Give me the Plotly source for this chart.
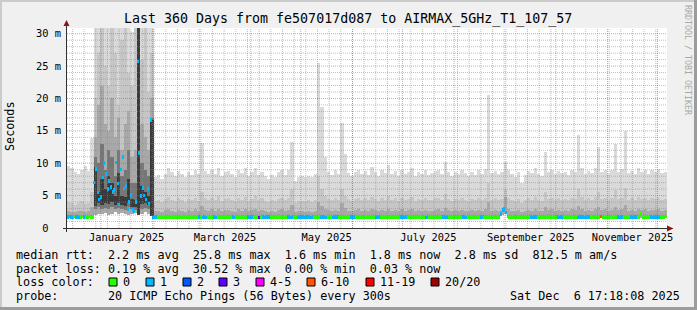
import plotly.graph_objects as go
from datetime import datetime, timedelta

# ---------------- data ----------------
START = datetime(2024, 12, 11, 17, 18, 8)
END = datetime(2025, 12, 6, 17, 18, 8)
SMOKE_STEP_DAYS = 2          # one smoke column = 2 days
MEDIAN_STEP_DAYS = 1         # one median cell = 1 day

# smoke envelope, ms (per 2-day column)
smoke_max = [
    9.5, 9.3, 8.6, 8.4, 9.0, 9.6, 8.8, 13.9, 35, 35,
    35, 35, 35, 35, 35, 35, 35, 35, 35, 30.2,
    35, 35, 35, 35, 35, 35, 7.8, 8.2, 7.6, 8.4,
    9.2, 8.6, 8.0, 8.8, 8.4, 7.9, 8.6, 8.2, 9.0, 8.4,
    13.1, 8.8, 8.3, 8.9, 8.4, 9.3, 8.0, 8.6, 8.8, 8.3,
    7.8, 9.0, 8.5, 9.2, 8.1, 8.7, 9.3, 8.2, 8.7, 8.0,
    7.6, 8.2, 7.8, 8.6, 8.9, 8.2, 8.9, 13.3, 7.2, 7.9,
    8.0, 7.9, 8.1, 7.8, 8.3, 25.4, 18.7, 11.0, 8.7, 8.2,
    8.9, 8.4, 16.2, 11.5, 8.5, 8.0, 8.6, 9.0, 8.4, 8.8,
    8.2, 9.4, 8.6, 8.0, 8.9, 8.5, 9.7, 8.3, 8.8, 8.1,
    9.0, 8.4, 8.7, 9.2, 8.0, 8.6, 8.3, 8.9, 8.2, 8.5,
    8.8, 9.0, 8.4, 10.2, 8.6, 8.1, 8.7, 8.3, 8.9, 8.5,
    8.0, 8.6, 8.2, 8.9, 8.4, 9.1, 20.5, 8.5, 8.8, 8.3,
    8.6, 10.2, 9.0, 8.4, 7.9, 8.6, 7.0, 8.2, 8.8, 8.5,
    9.2, 8.4, 8.0, 11.7, 8.6, 9.0, 8.3, 8.8, 8.5, 8.7,
    8.2, 9.0, 8.6, 14.4, 9.2, 8.4, 8.8, 8.5, 9.3, 12.5,
    8.6, 9.0, 8.4, 8.9, 13.0, 8.7, 9.1, 15.0, 8.5, 8.8,
    8.4, 9.2, 8.6, 9.0, 8.3, 8.9, 8.7, 9.1, 8.5, 8.6,
]
smoke_p90 = [
    4.0, 3.8, 3.6, 3.9, 4.1, 3.7, 3.9, 5.5, 20, 27,
    31, 25, 22, 31, 27, 19, 29, 31, 24, 22,
    31, 28, 26, 31, 21, 27, 4.2, 4.4, 4.0, 4.5,
    4.8, 4.3, 4.1, 4.6, 4.4, 4.0, 4.5, 4.3, 4.7, 4.2,
    5.5, 4.6, 4.3, 4.7, 4.4, 4.9, 4.2, 4.5, 4.6, 4.3,
    4.1, 4.7, 4.4, 4.8, 4.2, 4.5, 4.9, 4.3, 4.6, 4.2,
    4.0, 4.3, 4.1, 4.5, 4.7, 4.3, 4.6, 6.0, 3.9, 4.2,
    4.2, 4.1, 4.3, 4.0, 4.4, 8.0, 6.0, 5.0, 4.5, 4.3,
    4.6, 4.4, 6.0, 5.0, 4.5, 4.2, 4.5, 4.7, 4.4, 4.6,
    4.3, 4.8, 4.5, 4.2, 4.6, 4.4, 5.0, 4.3, 4.6, 4.2,
    4.7, 4.4, 4.5, 4.8, 4.2, 4.5, 4.3, 4.6, 4.3, 4.4,
    4.6, 4.7, 4.4, 5.2, 4.5, 4.2, 4.5, 4.3, 4.6, 4.4,
    4.2, 4.5, 4.3, 4.6, 4.4, 4.7, 7.0, 4.4, 4.6, 4.3,
    4.5, 6.0, 4.7, 4.4, 4.1, 4.5, 3.8, 4.3, 4.6, 4.4,
    4.8, 4.4, 4.2, 5.5, 4.5, 4.7, 4.3, 4.6, 4.4, 4.5,
    4.3, 4.7, 4.5, 6.0, 4.8, 4.4, 4.6, 4.4, 4.8, 5.5,
    4.5, 4.7, 4.4, 4.6, 5.8, 4.5, 4.7, 6.2, 4.4, 4.6,
    4.4, 4.8, 4.5, 4.7, 4.3, 4.6, 4.5, 4.7, 4.4, 4.5,
]
smoke_p75 = [
    2.6, 2.5, 2.4, 2.6, 2.7, 2.5, 2.6, 3.2, 14, 19,
    22, 16, 15, 20, 14, 17, 12, 16, 18, 11,
    12, 26, 16, 14, 12, 20, 2.6, 2.7, 2.5, 2.8,
    2.9, 2.6, 2.5, 2.8, 2.7, 2.5, 2.8, 2.6, 2.9, 2.6,
    3.4, 2.8, 2.6, 2.9, 2.7, 3.0, 2.6, 2.8, 2.8, 2.6,
    2.5, 2.9, 2.7, 3.0, 2.6, 2.8, 3.0, 2.6, 2.8, 2.6,
    2.5, 2.6, 2.5, 2.8, 2.9, 2.6, 2.8, 3.5, 2.5, 2.6,
    2.6, 2.5, 2.7, 2.5, 2.7, 4.0, 3.4, 3.0, 2.8, 2.6,
    2.8, 2.7, 3.8, 3.1, 2.7, 2.6, 2.8, 2.9, 2.7, 2.8,
    2.6, 2.9, 2.8, 2.6, 2.8, 2.7, 3.0, 2.6, 2.8, 2.6,
    2.9, 2.7, 2.8, 2.9, 2.6, 2.8, 2.7, 2.8, 2.6, 2.7,
    2.8, 2.9, 2.7, 3.1, 2.8, 2.6, 2.8, 2.7, 2.8, 2.7,
    2.6, 2.8, 2.7, 2.8, 2.7, 2.9, 4.0, 2.7, 2.8, 2.7,
    2.8, 4.8, 2.9, 2.7, 2.6, 2.8, 2.5, 2.7, 2.8, 2.7,
    2.9, 2.7, 2.6, 3.2, 2.8, 2.9, 2.7, 2.8, 2.7, 2.8,
    2.7, 2.9, 2.8, 3.4, 2.9, 2.7, 2.8, 2.7, 2.9, 3.2,
    2.8, 2.9, 2.7, 2.8, 3.3, 2.8, 2.9, 3.5, 2.7, 2.8,
    2.7, 2.9, 2.8, 2.9, 2.7, 2.8, 2.8, 2.9, 2.7, 2.8,
]
smoke_min = [
    1.5, 1.5, 1.5, 1.5, 1.5, 1.5, 1.5, 1.5, 2.0, 2.2,
    2.1, 2.3, 2.0, 2.2, 2.4, 2.1, 2.3, 2.2, 2.0, 2.1,
    2.3, 2.0, 2.2, 2.4, 2.1, 2.2, 1.5, 1.5, 1.5, 1.5,
    1.5, 1.5, 1.5, 1.5, 1.5, 1.5, 1.5, 1.5, 1.5, 1.5,
    1.5, 1.5, 1.5, 1.5, 1.5, 1.5, 1.5, 1.5, 1.5, 1.5,
    1.5, 1.5, 1.5, 1.5, 1.5, 1.5, 1.5, 1.5, 1.5, 1.5,
    1.5, 1.5, 1.5, 1.5, 1.5, 1.5, 1.5, 1.5, 1.5, 1.5,
    1.5, 1.5, 1.5, 1.5, 1.5, 1.5, 1.5, 1.5, 1.5, 1.5,
    1.5, 1.5, 1.5, 1.5, 1.5, 1.5, 1.5, 1.5, 1.5, 1.5,
    1.5, 1.5, 1.5, 1.5, 1.5, 1.5, 1.5, 1.5, 1.5, 1.5,
    1.5, 1.5, 1.5, 1.5, 1.5, 1.5, 1.5, 1.5, 1.5, 1.5,
    1.5, 1.5, 1.5, 1.5, 1.5, 1.5, 1.5, 1.5, 1.5, 1.5,
    1.5, 1.5, 1.5, 1.5, 1.5, 1.5, 1.5, 1.5, 1.5, 1.5,
    2.0, 2.2, 1.5, 1.5, 1.5, 1.5, 1.5, 1.5, 1.5, 1.5,
    1.5, 1.5, 1.5, 1.5, 1.5, 1.5, 1.5, 1.5, 1.5, 1.5,
    1.5, 1.5, 1.5, 1.5, 1.5, 1.5, 1.5, 1.5, 1.5, 1.5,
    1.5, 1.5, 1.5, 1.5, 1.5, 1.5, 1.5, 1.5, 1.5, 1.5,
    1.5, 1.5, 1.5, 1.5, 1.5, 1.5, 1.5, 1.5, 1.5, 1.5,
]
# dense inner smoke of the late-Dec / January incident (smoke columns 8..25)
JAN_FIRST_COL = 8
jan_dark_lo = [3.0, 3.2, 2.9, 3.1, 3.0, 3.3, 2.9, 3.1, 3.0, 2.8, 3.2, 2.9, 2.8, 2.6, 3.0, 3.1, 2.9, 2.7]
jan_dark_hi = [11, 10, 13, 9, 12, 11, 8, 12, 8, 9, 12, 7, 7, 24, 10, 9, 8, 17]
jan_core_lo = [3.4, 3.8, 3.6, 3.9, 3.7, 4.0, 3.5, 3.8, 3.6, 3.4, 3.9, 3.3, 3.2, 2.0, 3.7, 3.8, 3.5, 1.9]
jan_core_hi = [9.4, 5.5, 7.5, 6.0, 8.0, 7.0, 5.0, 8.5, 5.0, 4.8, 7.5, 4.5, 4.4, 31.0, 6.5, 5.5, 5.0, 16.7]

# median rtt, ms (per day)
median_ms = [
    1.7, 1.8, 1.7, 1.7, 1.8, 1.7, 1.7, 1.6, 1.7, 1.8, 1.7, 1.7, 1.7, 1.8, 1.7, 1.7, 7.0, 9.1, 5.5, 4.4, 4.8, 7.8, 10.0, 8.3, 6.0, 7.3, 6.3, 5.6, 5.9, 10.1,
    6.9, 3.6, 9.0, 11.0, 6.1, 6.5, 2.9, 4.0, 5.1, 2.8, 2.6, 4.0, 25.7, 11.6, 4.9, 6.2, 5.0, 4.4, 6.0, 3.8, 16.7, 1.6, 1.6, 1.7, 1.6, 1.6, 1.7, 1.6, 1.6, 1.7,
    1.6, 1.7, 1.6, 1.6, 1.7, 1.6, 1.6, 1.7, 1.6, 1.6, 1.7, 1.6, 1.6, 1.7, 1.6, 1.6, 1.7, 1.6, 1.6, 1.7, 1.6, 1.6, 1.7, 1.6, 1.6, 1.7, 1.6, 1.6, 1.7, 1.6,
    1.7, 1.6, 1.7, 1.7, 1.6, 1.7, 1.7, 1.6, 1.7, 1.7, 1.6, 1.7, 1.7, 1.6, 1.7, 1.7, 1.6, 1.7, 1.7, 1.6, 1.7, 1.7, 1.6, 1.7, 1.7, 1.6, 1.7, 1.7, 1.6, 1.7,
    1.7, 1.7, 1.6, 1.7, 1.7, 1.7, 1.6, 1.7, 1.7, 1.7, 1.6, 1.7, 1.7, 1.7, 1.6, 1.7, 1.7, 1.7, 1.6, 1.7, 1.7, 1.7, 1.6, 1.7, 1.7, 1.7, 1.6, 1.7, 1.7, 1.7,
    1.7, 1.6, 1.7, 1.7, 1.7, 1.6, 1.7, 1.7, 1.7, 1.6, 1.7, 1.7, 1.7, 1.6, 1.7, 1.7, 1.7, 1.6, 1.7, 1.7, 1.7, 1.6, 1.7, 1.7, 1.7, 1.6, 1.7, 1.7, 1.7, 1.6,
    1.7, 1.7, 1.6, 1.7, 1.7, 1.7, 1.6, 1.7, 1.7, 1.7, 1.6, 1.7, 1.7, 1.7, 1.6, 1.7, 1.7, 1.7, 1.6, 1.7, 1.7, 1.7, 1.6, 1.7, 1.7, 1.7, 1.6, 1.7, 1.7, 1.7,
    1.7, 1.6, 1.7, 1.7, 1.7, 1.6, 1.7, 1.7, 1.7, 1.6, 1.7, 1.7, 1.7, 1.6, 1.7, 1.7, 1.7, 1.6, 1.7, 1.7, 1.7, 1.6, 1.7, 1.7, 1.7, 1.6, 1.7, 1.7, 1.7, 1.6,
    1.7, 1.7, 1.6, 1.7, 1.7, 1.7, 1.6, 1.7, 1.7, 1.7, 1.6, 1.7, 1.7, 1.7, 1.6, 1.7, 1.7, 1.7, 1.6, 1.7, 2.2, 2.8, 2.9, 2.4, 1.8, 1.7, 1.7, 1.6, 1.7, 1.7,
    1.7, 1.6, 1.7, 1.7, 1.7, 1.6, 1.7, 1.7, 1.7, 1.6, 1.7, 1.7, 1.7, 1.6, 1.7, 1.7, 1.7, 1.6, 1.7, 1.7, 1.7, 1.6, 1.7, 1.7, 1.7, 1.6, 1.7, 1.7, 1.7, 1.6,
    1.7, 1.7, 1.6, 1.7, 1.7, 1.7, 1.6, 1.7, 1.7, 1.7, 1.6, 1.7, 1.7, 1.7, 1.6, 1.7, 1.7, 1.7, 1.6, 1.7, 1.8, 1.7, 1.7, 1.6, 1.7, 1.7, 1.7, 1.6, 1.7, 1.7,
    1.7, 1.6, 1.7, 1.7, 1.7, 1.6, 1.7, 1.7, 1.7, 1.6, 1.7, 1.7, 1.7, 1.6, 2.2, 1.7, 1.7, 1.6, 1.7, 1.7, 1.7, 1.6, 1.7, 1.7, 1.7, 1.6, 1.7, 1.7, 1.7, 1.8,
]
# loss bucket per day: 0 -> "0", 1 -> "1", 2 -> "2", 3 -> "3", 4 -> "4-5", 5 -> "6-10", 6 -> "11-19", 7 -> "20/20"
loss_idx = [
    1, 1, 1, 1, 0, 1, 1, 1, 0, 0, 1, 0, 0, 0, 0, 0, 1, 1, 1, 1, 1, 1, 1, 1, 1, 1, 1, 1, 1, 1,
    1, 1, 1, 1, 1, 1, 1, 1, 1, 1, 1, 1, 1, 1, 1, 1, 1, 1, 1, 1, 1, 1, 1, 1, 0, 0, 0, 0, 0, 0,
    0, 0, 0, 0, 0, 0, 0, 0, 0, 0, 0, 0, 0, 0, 0, 0, 0, 0, 0, 1, 0, 1, 1, 1, 0, 0, 0, 0, 1, 1,
    0, 0, 0, 0, 0, 0, 0, 0, 0, 1, 1, 0, 0, 0, 0, 0, 0, 0, 1, 1, 1, 1, 0, 0, 0, 3, 0, 1, 1, 1,
    1, 1, 0, 0, 0, 0, 0, 0, 0, 0, 0, 0, 1, 1, 1, 1, 0, 0, 1, 1, 1, 1, 1, 1, 1, 1, 1, 1, 0, 0,
    0, 0, 1, 1, 1, 1, 0, 0, 0, 1, 1, 1, 1, 0, 0, 0, 0, 0, 0, 0, 1, 1, 1, 0, 0, 0, 0, 0, 0, 0,
    0, 0, 0, 0, 0, 1, 1, 1, 0, 0, 0, 0, 0, 0, 0, 0, 0, 0, 0, 0, 1, 1, 1, 1, 0, 0, 0, 0, 0, 0,
    0, 0, 0, 0, 0, 1, 1, 0, 0, 0, 0, 0, 0, 0, 0, 1, 1, 1, 1, 0, 0, 0, 0, 0, 0, 0, 0, 1, 1, 1,
    0, 0, 0, 0, 0, 0, 0, 0, 1, 1, 0, 0, 0, 0, 0, 0, 0, 0, 0, 0, 1, 1, 1, 1, 0, 0, 0, 0, 0, 0,
    0, 0, 0, 0, 0, 0, 0, 0, 1, 1, 1, 1, 0, 0, 0, 0, 0, 0, 0, 0, 0, 0, 0, 0, 1, 1, 1, 1, 0, 0,
    0, 0, 0, 0, 0, 0, 1, 1, 1, 1, 1, 1, 1, 1, 0, 0, 0, 0, 0, 0, 5, 0, 0, 0, 0, 0, 0, 0, 0, 0,
    1, 1, 1, 1, 0, 0, 0, 0, 1, 1, 1, 1, 0, 0, 0, 0, 0, 0, 0, 0, 1, 1, 1, 1, 1, 1, 0, 0, 0, 0,
]
loss_labels = ["0", "1", "2", "3", "4-5", "6-10", "11-19", "20/20"]
loss_colors = ["#26ff00", "#00b8ff", "#0059ff", "#5e00ff", "#ff00ff", "#ff5500", "#ff0000", "#a00000"]

y_tick_vals = [0, 5, 10, 15, 20, 25, 30]
y_tick_text = ["0\u00a0\u00a0", "5 m", "10 m", "15 m", "20 m", "25 m", "30 m"]
x_label_months = [(2025, 1), (2025, 3), (2025, 5), (2025, 7), (2025, 9), (2025, 11)]

title_text = "Last 360 Days from fe507017d087 to AIRMAX_5GHz_T1_107_57"
stat_rows = [
    "median rtt:  2.2 ms avg  25.8 ms max  1.6 ms min  1.8 ms now  2.8 ms sd  812.5 m am/s",
    "packet loss: 0.19 % avg  30.52 % max  0.00 % min  0.03 % now",
]
probe_text = "probe:       20 ICMP Echo Pings (56 Bytes) every 300s"
stamp_text = "Sat Dec  6 17:18:08 2025"

# ---------------- styling / geometry ----------------
W_PX, H_PX = 697, 310
L, R, T, B = 67, 667, 28, 228          # canvas box in pixels
Y_TOP = 30.88
MONO = "DejaVu Sans Mono"
C_OUTER, C_MID, C_INNER = "#dadada", "#c6c6c6", "#a8a8a8"
C_JDARK, C_JCORE = "#767676", "#3a3a3a"
MED_THICK = 0.55


def pxx(x):
    return (x - L) / (R - L)


def pxy(y):
    return (B - y) / (B - T)


def nb(s):
    return s.replace(" ", "\u00a0")


fig = go.Figure()
DAY_MS = 86400 * 1000
smoke_x = [START + timedelta(days=SMOKE_STEP_DAYS * i + SMOKE_STEP_DAYS / 2) for i in range(len(smoke_max))]
for hi, col in [(smoke_max, C_OUTER), (smoke_p90, C_MID), (smoke_p75, C_INNER)]:
    fig.add_trace(go.Bar(x=smoke_x, y=[h - l for h, l in zip(hi, smoke_min)], base=smoke_min,
                         width=SMOKE_STEP_DAYS * DAY_MS, marker=dict(color=col, line=dict(width=0)),
                         hoverinfo="skip"))
jan_x = smoke_x[JAN_FIRST_COL:JAN_FIRST_COL + len(jan_dark_hi)]
for lo, hi, col in [(jan_dark_lo, jan_dark_hi, C_JDARK), (jan_core_lo, jan_core_hi, C_JCORE)]:
    fig.add_trace(go.Bar(x=jan_x, y=[h - l for h, l in zip(hi, lo)], base=lo,
                         width=SMOKE_STEP_DAYS * DAY_MS, marker=dict(color=col, line=dict(width=0)),
                         hoverinfo="skip"))
day_x = [START + timedelta(days=MEDIAN_STEP_DAYS * i + MEDIAN_STEP_DAYS / 2) for i in range(len(median_ms))]
fig.add_trace(go.Bar(x=day_x, y=[MED_THICK] * len(median_ms), base=[m - MED_THICK / 2 for m in median_ms],
                     width=MEDIAN_STEP_DAYS * DAY_MS,
                     marker=dict(color=[loss_colors[k] for k in loss_idx], line=dict(width=0)),
                     hoverinfo="skip"))

shapes = []
GRID = "rgba(140,140,140,0.55)"
MGRID = "rgba(225,70,70,0.55)"
# horizontal grid
for v in range(1, 31):
    shapes.append(dict(type="line", xref="x", yref="y", x0=START, x1=END, y0=v, y1=v, layer="above",
                       line=dict(color=MGRID if v % 5 == 0 else GRID, width=1, dash="1px,1px")))
# weekly minor grid (Sundays)
d = datetime(2024, 12, 15)
while d < END:
    shapes.append(dict(type="line", xref="x", yref="paper", x0=d, x1=d, y0=0, y1=1, layer="above",
                       line=dict(color=GRID, width=1, dash="1px,1px")))
    d += timedelta(days=7)
# monthly major grid
for m in range(1, 13):
    d = datetime(2025, m, 1)
    shapes.append(dict(type="line", xref="x", yref="paper", x0=d, x1=d, y0=0, y1=1, layer="above",
                       line=dict(color=MGRID, width=1, dash="1px,1px")))
# axes + arrows
AX = "#303030"
ARROW = "#8c1515"
shapes.append(dict(type="line", xref="paper", yref="paper", x0=pxx(63), x1=pxx(669), y0=pxy(228.5), y1=pxy(228.5),
                   line=dict(color=AX, width=1), layer="above"))
shapes.append(dict(type="line", xref="paper", yref="paper", x0=pxx(66.5), x1=pxx(66.5), y0=pxy(232), y1=pxy(24),
                   line=dict(color=AX, width=1), layer="above"))
shapes.append(dict(type="path", xref="paper", yref="paper", layer="above", fillcolor=ARROW, line=dict(width=0),
                   path=f"M {pxx(63.5)} {pxy(26)} L {pxx(66.5)} {pxy(20)} L {pxx(69.5)} {pxy(26)} Z"))
shapes.append(dict(type="path", xref="paper", yref="paper", layer="above", fillcolor=ARROW, line=dict(width=0),
                   path=f"M {pxx(667)} {pxy(225.5)} L {pxx(673.5)} {pxy(228.5)} L {pxx(667)} {pxy(231.5)} Z"))
# outer frame shading
shapes.append(dict(type="rect", xref="paper", yref="paper", x0=pxx(0), x1=pxx(W_PX), y0=pxy(0), y1=pxy(2),
                   fillcolor="#cbcbcb", line=dict(width=0), layer="above"))
shapes.append(dict(type="rect", xref="paper", yref="paper", x0=pxx(0), x1=pxx(2), y0=pxy(0), y1=pxy(H_PX),
                   fillcolor="#cbcbcb", line=dict(width=0), layer="above"))
shapes.append(dict(type="rect", xref="paper", yref="paper", x0=pxx(694), x1=pxx(W_PX), y0=pxy(0), y1=pxy(H_PX),
                   fillcolor="#9c9c9c", line=dict(width=0), layer="above"))
shapes.append(dict(type="rect", xref="paper", yref="paper", x0=pxx(0), x1=pxx(W_PX), y0=pxy(307), y1=pxy(H_PX),
                   fillcolor="#9c9c9c", line=dict(width=0), layer="above"))

annotations = []


def text(x, y, s, size, anchor="left", angle=0, color="#000000"):
    annotations.append(dict(xref="paper", yref="paper", x=pxx(x), y=pxy(y), text=nb(s), showarrow=False,
                            xanchor=anchor, yanchor="middle", textangle=angle, borderpad=0,
                            font=dict(family=MONO, size=size, color=color)))


text(347.5, 19, title_text, 13.3, anchor="center")
text(10, 126, "Seconds", 11.76, anchor="center", angle=-90)
text(688, 60, "RRDTOOL / TOBI OETIKER", 8.3, anchor="center", angle=90, color="#a8a8a8")
LEG_X = 15.4
text(LEG_X, 254.5, stat_rows[0], 11.76)
text(LEG_X, 268.5, stat_rows[1], 11.76)
text(LEG_X, 282, "loss color:", 11.76)
text(LEG_X, 296, probe_text, 11.76)
text(681, 296, stamp_text, 11.76, anchor="right")
box_x = [109, 146, 183, 219, 256, 307, 366, 431]
for bx, lab, col in zip(box_x, loss_labels, loss_colors):
    shapes.append(dict(type="rect", xref="paper", yref="paper", x0=pxx(bx), x1=pxx(bx + 8), y0=pxy(278),
                       y1=pxy(286), fillcolor=col, line=dict(color="#000000", width=1), layer="above"))
    text(bx + 13.4, 282, lab, 11.76)

mid_months = []
for (yy, mm) in x_label_months:
    a = datetime(yy, mm, 1)
    b = datetime(yy + (mm == 12), mm % 12 + 1, 1)
    mid_months.append(a + (b - a) / 2)
x_tick_text = [datetime(yy, mm, 1).strftime("%B %Y") for (yy, mm) in x_label_months]

fig.update_layout(
    width=W_PX, height=H_PX, margin=dict(l=L, r=W_PX - R, t=T, b=H_PX - B, pad=0),
    paper_bgcolor="#f0f0f0", plot_bgcolor="#ffffff", showlegend=False,
    barmode="overlay", bargap=0, shapes=shapes, annotations=annotations,
    xaxis=dict(type="date", range=[START, END], showgrid=False, zeroline=False, showline=False,
               tickmode="array", tickvals=mid_months, ticktext=x_tick_text, ticks="",
               tickfont=dict(family=MONO, size=10.4, color="#000000"), fixedrange=True,
               ticklabelstandoff=2),
    yaxis=dict(range=[0, Y_TOP], showgrid=False, zeroline=False, showline=False,
               tickmode="array", tickvals=y_tick_vals, ticktext=y_tick_text, ticks="",
               tickfont=dict(family=MONO, size=10.4, color="#000000"), fixedrange=True,
               ticklabelstandoff=5),
)
fig.write_html("out.html")
